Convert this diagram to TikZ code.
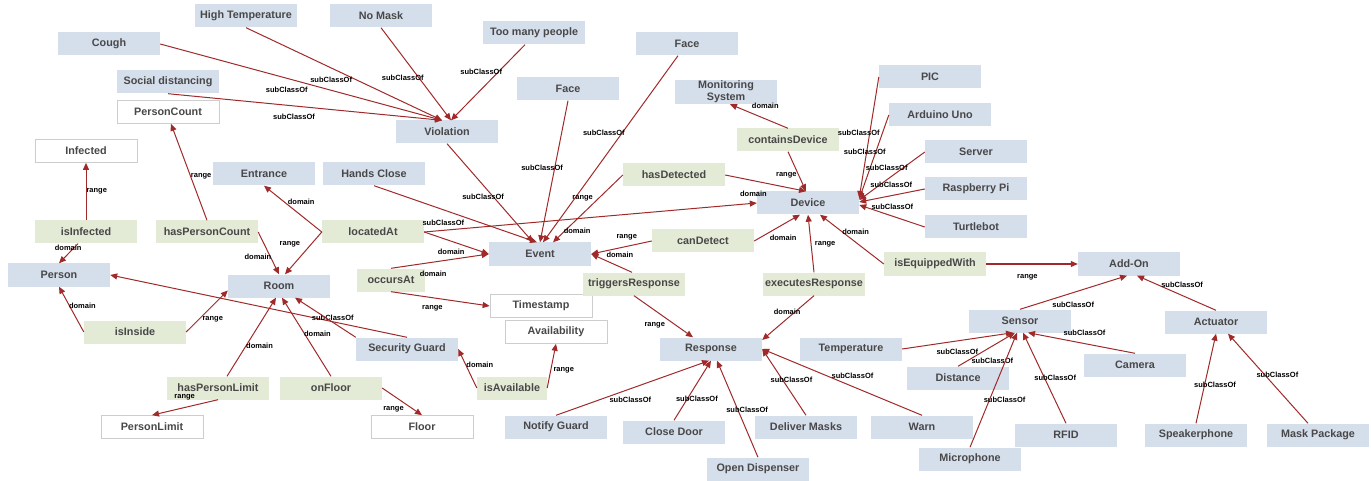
\documentclass[tikz,border=0pt]{standalone}
\usepackage{fontspec}
\setmainfont{Liberation Sans}
\usetikzlibrary{arrows.meta}
\definecolor{clsblue}{RGB}{213,222,235}
\definecolor{propgreen}{RGB}{227,234,213}
\definecolor{dtgray}{RGB}{205,205,205}
\definecolor{boxtext}{RGB}{72,72,72}
\definecolor{arrred}{RGB}{160,42,42}
\begin{document}
\begin{tikzpicture}[x=1pt,y=-1pt,>={Triangle[length=7pt,width=6pt]},
    cls/.style={fill=clsblue,minimum width=102pt,minimum height=23pt,inner sep=1pt,align=center,text=boxtext,font=\fontsize{10.8}{12}\selectfont\bfseries},
    prop/.style={cls,fill=propgreen},
    dtype/.style={cls,fill=white,draw=dtgray,line width=.7pt},
    lbl/.style={inner sep=0pt,font=\fontsize{7.5}{8}\selectfont\bfseries},
    arr/.style={draw=arrred,line width=1pt,->}]
\useasboundingbox(0,0)rectangle(1371,481);
    \node[cls](cough) at (109,44){Cough};
    \node[cls](hight) at (246,16){High Temperature};
    \node[cls](nomask) at (381,16){No Mask};
    \node[cls](toomany) at (534,33){Too many people};
    \node[cls](face1) at (687,44){Face};
    \node[cls](social) at (168,82){Social distancing};
    \node[cls](face2) at (568,89){Face};
    \node[cls](monsys) at (726,92){Monitoring\\System};
    \node[cls](pic) at (930,77){PIC};
    \node[cls](arduino) at (940,115){Arduino Uno};
    \node[cls](server) at (976,152){Server};
    \node[cls](raspi) at (976,189){Raspberry Pi};
    \node[cls](turtle) at (976,227){Turtlebot};
    \node[cls](viol) at (447,132){Violation};
    \node[cls](entr) at (264,174){Entrance};
    \node[cls](hands) at (374,174){Hands Close};
    \node[cls](device) at (808,203){Device};
    \node[cls](event) at (540,254){Event};
    \node[cls](person) at (59,275){Person};
    \node[cls](room) at (279,286){Room};
    \node[cls](addon) at (1129,264){Add-On};
    \node[cls](sensor) at (1020,321){Sensor};
    \node[cls](actuator) at (1216,322){Actuator};
    \node[cls](resp) at (711,349){Response};
    \node[cls](temp) at (851,349){Temperature};
    \node[cls](guard) at (407,349){Security Guard};
    \node[cls](dist) at (958,378){Distance};
    \node[cls](camera) at (1135,365){Camera};
    \node[cls](notify) at (556,427){Notify Guard};
    \node[cls](close) at (674,432){Close Door};
    \node[cls](masks) at (806,427){Deliver Masks};
    \node[cls](warn) at (922,427){Warn};
    \node[cls](rfid) at (1066,435){RFID};
    \node[cls](speaker) at (1196,435){Speakerphone};
    \node[cls](maskpkg) at (1318,435){Mask Package};
    \node[cls](micro) at (970,459){Microphone};
    \node[cls](dispenser) at (758,469){Open Dispenser};

    \node[dtype](pcount) at (168,112){PersonCount};
    \node[dtype](infected) at (86,151){Infected};
    \node[dtype](tstamp) at (541,306){Timestamp};
    \node[dtype](avail) at (556,332){Availability};
    \node[dtype](plimit) at (152,427){PersonLimit};
    \node[dtype](floor) at (422,427){Floor};

    \node[prop](contains) at (788,140){containsDevice};
    \node[prop](hasdet) at (674,175){hasDetected};
    \node[prop](isinf) at (86,232){isInfected};
    \node[prop](haspc) at (207,232){hasPersonCount};
    \node[prop](located) at (373,232){locatedAt};
    \node[prop](candet) at (703,241){canDetect};
    \node[prop,minimum width=68pt](occurs) at (391,280){occursAt};
    \node[prop](triggers) at (634,284){triggersResponse};
    \node[prop](executes) at (814,284){executesResponse};
    \node[prop](equipped) at (935,264){isEquippedWith};
    \node[prop](isinside) at (135,332){isInside};
    \node[prop](haspl) at (218,388){hasPersonLimit};
    \node[prop](onfloor) at (331,388){onFloor};
    \node[prop,minimum width=70pt](isavail) at (512,388){isAvailable};

    \draw[arr](cough.east)--([xshift=-5pt]viol.north)node[lbl,pos=.46,xshift=-3pt,yshift=-11pt]{subClassOf};
    \draw[arr](hight.south)--([xshift=-5pt]viol.north)node[lbl,pos=.46,xshift=-5pt,yshift=-10pt]{subClassOf};
    \draw[arr](nomask.south)--([xshift=4pt]viol.north)node[lbl,pos=.54,xshift=-16pt]{subClassOf};
    \draw[arr]([xshift=-9pt]toomany.south)--([xshift=4pt]viol.north)node[lbl,pos=.47,xshift=-9pt,yshift=8pt]{subClassOf};
    \draw[arr](social.south)--([xshift=-5pt]viol.north)node[lbl,pos=.46,yshift=-11pt]{subClassOf};

    \draw[arr](viol.south)--([xshift=-7pt]event.north)node[lbl,pos=.49,xshift=-6pt,yshift=-5pt]{subClassOf};
    \draw[arr](hands.south)--([xshift=-3pt]event.north)node[lbl,pos=.45,xshift=-4pt,yshift=-12pt]{subClassOf};
    \draw[arr](face2.south)--(event.north)node[lbl,pos=.46,xshift=-13pt,yshift=-2pt]{subClassOf};
    \draw[arr]([xshift=-9pt]face1.south)--([xshift=3pt]event.north)node[lbl,pos=.46,xshift=-12pt,yshift=9pt]{subClassOf};
    \draw[arr](hasdet.west)--([xshift=13pt]event.north)node[lbl,pos=.46,xshift=-8pt,yshift=8pt]{range}node[lbl,pos=.74,xshift=6pt,yshift=-6pt]{domain};
    \draw[arr](hasdet.east)--([xshift=-2pt]device.north);
    \draw[arr](contains.south)--([xshift=-2pt]device.north)node[lbl,pos=.5,left=0pt,yshift=-4pt]{range};
    \draw[arr](contains.north)--([xshift=4pt]monsys.south)node[lbl,pos=.46,xshift=4pt,yshift=11pt]{domain};

    \draw[arr](located.west)--(entr.south)node[lbl,pos=.46,xshift=6pt,yshift=9pt]{domain};
    \draw[arr](located.west)--([xshift=6pt]room.north)node[lbl,pos=.54,xshift=-12pt,yshift=11pt]{range};
    \draw[arr](located.east)--(event.west)node[lbl,pos=.48,xshift=-4pt,yshift=-9pt]{domain};
    \draw[arr](located.east)--(device.west)node[lbl,pos=.99,yshift=9pt]{domain};
    \draw[arr](occurs.north)--(event.west)node[lbl,pos=.41,xshift=2pt,yshift=-11pt]{domain};
    \draw[arr](occurs.south)--(tstamp.west)node[lbl,pos=.44,xshift=-2pt,yshift=-10pt]{range};

    \draw[arr](haspc.north)--([xshift=3pt]pcount.south)node[lbl,pos=.46,right=0pt]{range};
    \draw[arr](haspc.east)--(room.north)node[lbl,pos=.47,xshift=-10pt,yshift=-5pt]{domain};
    \draw[arr](isinf.north)--(infected.south)node[lbl,pos=.5,right=0pt]{range};
    \draw[arr]([xshift=-8pt]isinf.south)--(person.north)node[lbl,pos=.2,xshift=-6pt]{domain};
    \draw[arr](isinside.west)--(person.south)node[lbl,pos=.46,xshift=10pt,yshift=5pt]{domain};
    \draw[arr](isinside.east)--(room.185)node[lbl,pos=.47,xshift=7pt,yshift=-7pt]{range};
    \draw[arr](guard.north)--(person.east)node[lbl,pos=.25,yshift=4pt]{subClassOf};
    \draw[arr](guard.north west)--([xshift=16pt]room.south);
    \draw[arr]([xshift=9pt]haspl.north)--([xshift=-3pt]room.south)node[lbl,pos=.46,xshift=10pt,yshift=-6pt]{domain};
    \draw[arr](haspl.south)--(plimit.north)node[lbl,pos=.46,xshift=-3pt,yshift=10pt]{range};
    \draw[arr](onfloor.north)--([xshift=3pt]room.south)node[lbl,pos=.46,xshift=9pt,yshift=6pt]{domain};
    \draw[arr](onfloor.east)--(floor.north)node[lbl,pos=.46,xshift=-7pt,yshift=-9pt]{range};
    \draw[arr](isavail.west)--(guard.east)node[lbl,pos=.43,xshift=11pt,yshift=6pt]{domain};
    \draw[arr](isavail.east)--(avail.south)node[lbl,pos=.4,xshift=13pt]{range};

    \draw[arr](candet.west)--(event.east)node[lbl,pos=.38,xshift=-2pt,yshift=9pt]{range};
    \draw[arr](candet.east)--([xshift=-8pt]device.south)node[lbl,pos=.5,xshift=6pt,yshift=-10pt]{domain};
    \draw[arr]([xshift=-2pt]triggers.north)--(event.east)node[lbl,pos=.42,xshift=5pt,yshift=10pt]{domain};
    \draw[arr](triggers.south)--([xshift=-18pt]resp.north)node[lbl,pos=.47,xshift=-7pt,yshift=-10pt]{range};
    \draw[arr](executes.north)--(device.south)node[lbl,pos=.48,xshift=14pt]{range};
    \draw[arr](executes.south)--(resp.10)node[lbl,pos=.46,xshift=-3pt,yshift=4pt]{domain};
    \draw[arr](equipped.west)--([xshift=12pt]device.south)node[lbl,pos=.52,xshift=5pt,yshift=7pt]{domain};
    \draw[arr](equipped.east)--(addon.west)node[lbl,pos=.45,yshift=-13pt]{range};

    \draw[arr](pic.west)--([yshift=5pt]device.east)node[lbl,pos=.46,xshift=-11pt]{subClassOf};
    \draw[arr](arduino.west)--([yshift=4pt]device.east)node[lbl,pos=.44,xshift=-11pt]{subClassOf};
    \draw[arr](server.west)--([yshift=3pt]device.east)node[lbl,pos=.49,xshift=-6pt,yshift=8pt]{subClassOf};
    \draw[arr](raspi.west)--([yshift=1pt]device.east)node[lbl,pos=.48,xshift=-2pt,yshift=10pt]{subClassOf};
    \draw[arr](turtle.west)--([yshift=-2pt]device.east)node[lbl,pos=.54,xshift=3pt,yshift=8pt]{subClassOf};

    \draw[arr](notify.north)--([xshift=-2pt]resp.south)node[lbl,pos=.46,xshift=4pt,yshift=-10pt]{subClassOf};
    \draw[arr](close.north)--(resp.south)node[lbl,pos=.43,xshift=7pt,yshift=-4pt]{subClassOf};
    \draw[arr](dispenser.north)--([xshift=6pt]resp.south)node[lbl,pos=.46,xshift=8pt,yshift=3pt]{subClassOf};
    \draw[arr](masks.north)--(resp.east)node[lbl,pos=.47,xshift=6pt,yshift=4pt]{subClassOf};
    \draw[arr](warn.north)--(resp.east)node[lbl,pos=.46,xshift=4pt,yshift=9pt]{subClassOf};

    \draw[arr](temp.east)--([xshift=-7pt]sensor.south)node[lbl,pos=.48,xshift=2pt,yshift=-11pt]{subClassOf};
    \draw[arr](dist.north)--([xshift=-5pt]sensor.south)node[lbl,pos=.48,xshift=7pt,yshift=-11pt]{subClassOf};
    \draw[arr](micro.north)--([xshift=-3pt]sensor.south)node[lbl,pos=.46,xshift=13pt,yshift=-5pt]{subClassOf};
    \draw[arr](rfid.north)--([xshift=3pt]sensor.south)node[lbl,pos=.46,xshift=9pt,yshift=4pt]{subClassOf};
    \draw[arr](camera.north)--([xshift=8pt]sensor.south)node[lbl,pos=.49,xshift=2pt,yshift=10pt]{subClassOf};
    \draw[arr](sensor.north)--([xshift=-2pt]addon.south)node[lbl,pos=.46,xshift=4pt,yshift=-11pt]{subClassOf};
    \draw[arr](actuator.north)--([xshift=8pt]addon.south)node[lbl,pos=.48,xshift=4pt,yshift=9pt]{subClassOf};
    \draw[arr](speaker.north)--(actuator.south)node[lbl,pos=.45,xshift=10pt,yshift=-2pt]{subClassOf};
    \draw[arr]([xshift=-10pt]maskpkg.north)--([xshift=12pt]actuator.south)node[lbl,pos=.47,xshift=7pt,yshift=6pt]{subClassOf};
\end{tikzpicture}
\end{document}
